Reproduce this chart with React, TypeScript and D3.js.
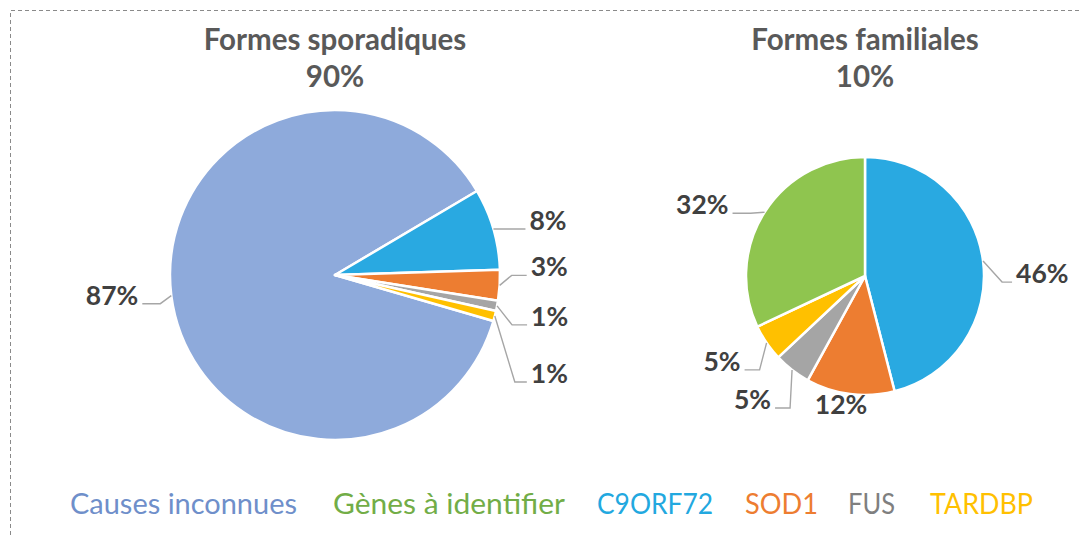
import React, { useEffect, useRef } from 'react';
import * as d3 from 'd3';

const W = 1082;
const H = 535;

// categories and colours (legend order)
const categories = ['Causes inconnues', 'Gènes à identifier', 'C9ORF72', 'SOD1', 'FUS', 'TARDBP'];
const sliceColors = ['#8eaadb', '#8fc54f', '#29a9e1', '#ed7d31', '#a5a5a5', '#ffc000'];
const legendColors = ['#6f8fca', '#72ad47', '#22a8df', '#ed7d31', '#7f7f7f', '#ffc000'];

// left pie : sporadic forms
const sporadicCats = ['Causes inconnues', 'C9ORF72', 'SOD1', 'FUS', 'TARDBP'];
const sporadicValues = [87, 8, 3, 1, 1];

// right pie : familial forms
const familialCats = ['C9ORF72', 'SOD1', 'FUS', 'TARDBP', 'Gènes à identifier'];
const familialValues = [46, 12, 5, 5, 32];

const titles = ['Formes sporadiques', 'Formes familiales'];
const shares = ['90%', '10%'];

// label layout: elbow / end offsets from the slice edge point, side of the text
const sporadicLabels = [
  { elbow: [-11, 8], end: [-29, 8], side: 'left' },
  { elbow: [17, 0], end: [32, 0], side: 'right' },
  { elbow: [12, -10], end: [27, -10], side: 'right' },
  { elbow: [15, 19], end: [30, 19], side: 'right' },
  { elbow: [20, 66], end: [32, 66], side: 'right' },
];
const familialLabels = [
  { elbow: [19, 21], end: [29, 21], side: 'right' },
  { elbow: null, end: [-9, 19], side: 'middle' },
  { elbow: [-2, 38], end: [-17, 38], side: 'left' },
  { elbow: [-7, 27], end: [-22, 27], side: 'left' },
  { elbow: [-14, 1], end: [-32, 1], side: 'left' },
];

// legend layout (left edge and text length of each entry)
const legendX = [70, 333, 597, 745, 848, 930];
const legendW = [227, 232, 116, 73, 47, 103];

const FONT = 'Lato, "Open Sans", sans-serif';

const App = () => {
  const ref = useRef<SVGSVGElement>(null);

  useEffect(() => {
    const svg = d3.select(ref.current);
    svg.selectAll('*').remove();

    const color = d3.scaleOrdinal<string, string>().domain(categories).range(sliceColors);
    const legendColor = d3.scaleOrdinal<string, string>().domain(categories).range(legendColors);

    // dashed frame
    svg.append('path')
      .attr('d', `M10.5,${H} V10.5 H${W}`)
      .attr('fill', 'none')
      .attr('stroke', '#8a8a8a')
      .attr('stroke-dasharray', '4 3');

    const drawPie = (cx, cy, r, cats, values, startDeg, layout, ti) => {
      const g = svg.append('g').attr('transform', `translate(${cx},${cy})`);
      const start = startDeg * Math.PI / 180;
      const pie = d3.pie<number>().sort(null).value(d => d)
        .startAngle(start).endAngle(start + 2 * Math.PI);
      const arcs = pie(values);
      const arc = d3.arc<d3.PieArcDatum<number>>().innerRadius(0).outerRadius(r);

      g.selectAll('path.slice')
        .data(arcs)
        .join('path')
        .attr('class', 'slice')
        .attr('d', arc)
        .attr('fill', (d, i) => color(cats[i]))
        .attr('stroke', '#fff')
        .attr('stroke-width', 2.5)
        .attr('stroke-linejoin', 'round');

      const total = d3.sum(values);
      arcs.forEach((d, i) => {
        const mid = (d.startAngle + d.endAngle) / 2;
        const ex = r * Math.sin(mid);
        const ey = -r * Math.cos(mid);
        const L = layout[i];
        const endX = ex + L.end[0];
        const endY = ey + L.end[1];
        if (L.elbow) {
          g.append('polyline')
            .attr('points', `${ex},${ey} ${ex + L.elbow[0]},${ey + L.elbow[1]} ${endX},${endY}`)
            .attr('fill', 'none')
            .attr('stroke', '#a6a6a6')
            .attr('stroke-width', 1.4);
        }
        const tx = L.side === 'left' ? endX - 4 : L.side === 'right' ? endX + 4 : endX;
        g.append('text')
          .attr('x', tx)
          .attr('y', endY + 1)
          .attr('text-anchor', L.side === 'left' ? 'end' : L.side === 'right' ? 'start' : 'middle')
          .attr('font-family', FONT)
          .attr('font-weight', 700)
          .attr('font-size', 26.5)
          .attr('fill', '#404040')
          .text(`${d3.format('.0f')(values[i] / total * 100)}%`);
      });

      svg.append('text')
        .attr('x', cx)
        .attr('y', 50)
        .attr('text-anchor', 'middle')
        .attr('font-family', FONT)
        .attr('font-weight', 700)
        .attr('font-size', 29.5)
        .attr('fill', '#595959')
        .text(titles[ti]);
      svg.append('text')
        .attr('x', cx)
        .attr('y', 87)
        .attr('text-anchor', 'middle')
        .attr('font-family', FONT)
        .attr('font-weight', 700)
        .attr('font-size', 29.5)
        .attr('fill', '#595959')
        .text(shares[ti]);
    };

    drawPie(335, 275, 165, sporadicCats, sporadicValues, 106.2, sporadicLabels, 0);
    drawPie(865, 276, 119, familialCats, familialValues, 0, familialLabels, 1);

    // legend
    svg.append('g')
      .selectAll('text')
      .data(categories)
      .join('text')
      .attr('x', (d, i) => legendX[i])
      .attr('y', 514)
      .attr('font-family', FONT)
      .attr('font-size', 28)
      .attr('fill', d => legendColor(d))
      .attr('textLength', (d, i) => legendW[i])
      .attr('lengthAdjust', 'spacingAndGlyphs')
      .text(d => d);
  }, []);

  return (
    <svg ref={ref} width={W} height={H}
      style={{ position: 'absolute', left: 0, top: 0, background: '#fff' }} />
  );
};

export default App;
